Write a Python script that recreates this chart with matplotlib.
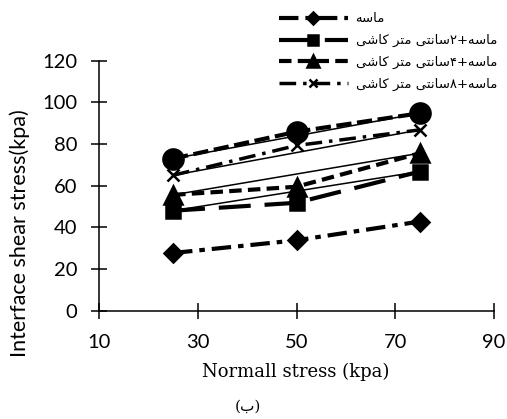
import numpy as np
import matplotlib
matplotlib.use("Agg")
import matplotlib.pyplot as plt

# normal stress (kpa) and interface shear stress (kpa)
normal_stress = [25, 50, 75]
sand = [27.7, 33.8, 42.8]
sand_tile2 = [48.0, 51.8, 66.8]
sand_tile4 = [55.6, 59.5, 75.6]
sand_tile8 = [65.0, 79.3, 86.8]
sand_extra = [73.0, 85.9, 94.8]

series_labels = ["ماسه",
                 "ماسه+۲سانتی متر کاشی",
                 "ماسه+۴سانتی متر کاشی",
                 "ماسه+۸سانتی متر کاشی"]
x_ticks = [10, 30, 50, 70, 90]
y_ticks = [0, 20, 40, 60, 80, 100, 120]

# matplotlib has no arabic shaping, so pick the joined forms by hand
# (isolated, final, initial, medial)
FORMS = {
    "ا": ("\uFE8D", "\uFE8E", None, None),
    "ر": ("\uFEAD", "\uFEAE", None, None),
    "م": ("\uFEE1", "\uFEE2", "\uFEE3", "\uFEE4"),
    "س": ("\uFEB1", "\uFEB2", "\uFEB3", "\uFEB4"),
    "ه": ("\uFEE9", "\uFEEA", "\uFEEB", "\uFEEC"),
    "ن": ("\uFEE5", "\uFEE6", "\uFEE7", "\uFEE8"),
    "ت": ("\uFE95", "\uFE96", "\uFE97", "\uFE98"),
    "ی": ("\uFBFC", "\uFBFD", "\uFBFE", "\uFBFF"),
    "ک": ("\uFB8E", "\uFB8F", "\uFB90", "\uFB91"),
    "ش": ("\uFEB5", "\uFEB6", "\uFEB7", "\uFEB8"),
    "ب": ("\uFE8F", "\uFE90", "\uFE91", "\uFE92"),
}


def shape_rtl(s):
    out = []
    for i, ch in enumerate(s):
        if ch not in FORMS:
            out.append(ch)
            continue
        prev = s[i - 1] if i > 0 else ""
        nxt = s[i + 1] if i + 1 < len(s) else ""
        iso, fin, ini, med = FORMS[ch]
        join_prev = prev in FORMS and FORMS[prev][2] is not None
        join_next = ini is not None and nxt in FORMS
        if join_prev and join_next:
            out.append(med)
        elif join_prev:
            out.append(fin)
        elif join_next:
            out.append(ini)
        else:
            out.append(iso)
    return "".join(reversed(out))


plt.rcParams["lines.scale_dashes"] = False
W, H = 507, 419
fig = plt.figure(figsize=(W / 100, H / 100), dpi=100)
ax = fig.add_axes([99 / W, 1 - 310.7 / H, 395 / W, 250 / H])

styles = [
    (sand, "D", 9.0, 3.0, (0, (14, 5, 4, 5))),
    (sand_tile2, "s", 10.5, 3.0, (0, (23, 10))),
    (sand_tile4, "^", 12.5, 3.0, (0, (9, 4.5))),
    (sand_tile8, "x", 9.0, 2.5, (0, (12, 5, 2.5, 5))),
    (sand_extra, "o", 14.5, 3.0, (0, (11, 4))),
]

handles = []
for i, (vals, mk, ms, lw, ls) in enumerate(styles):
    line, = ax.plot(normal_stress, vals, color="black", lw=lw, linestyle=ls,
                    marker=mk, markersize=ms, markerfacecolor="black",
                    markeredgecolor="black", markeredgewidth=1.8,
                    solid_capstyle="butt", dash_capstyle="butt", zorder=3)
    handles.append(line)
    if i > 0:
        # thin straight line from first to last point
        ax.plot([normal_stress[0], normal_stress[-1]], [vals[0], vals[-1]],
                color="black", lw=1.1, zorder=2)

ax.set_xlim(10, 90)
ax.set_ylim(0, 120)
ax.set_xticks(x_ticks)
ax.set_yticks(y_ticks)
for side in ("top", "right"):
    ax.spines[side].set_visible(False)
for side in ("left", "bottom"):
    ax.spines[side].set_linewidth(1.1)
ax.tick_params(direction="inout", length=11, width=1.1, labelsize=14.5)
ax.tick_params(axis="y", pad=10)
ax.tick_params(axis="x", pad=11)
for lab in ax.get_xticklabels() + ax.get_yticklabels():
    lab.set_fontfamily("Lato")
    lab.set_color("black")

fig.text(20 / W, 1 - 233.5 / H, "Interface shear stress(kpa)", rotation=90,
         ha="center", va="center", fontsize=15.5, family="Lato")
fig.text(296 / W, 1 - 372 / H, "Normall stress (kpa)", ha="center",
         va="center", fontsize=13, family="DejaVu Serif")
fig.text(248 / W, 1 - 407 / H, "(" + shape_rtl("ب") + ")", ha="center",
         va="center", fontsize=11, family=["DejaVu Serif", "DejaVu Sans"])

leg = fig.legend(handles[:4], [shape_rtl(s) for s in series_labels],
                 loc="upper left", bbox_to_anchor=(279 / W, 1 - 12.5 / H),
                 frameon=False, borderpad=0, borderaxespad=0,
                 handlelength=5.2, handletextpad=0.6, labelspacing=0.66,
                 markerscale=0.7, prop={"family": "DejaVu Sans", "size": 9.5})

fig.savefig("out.png", dpi=100)
